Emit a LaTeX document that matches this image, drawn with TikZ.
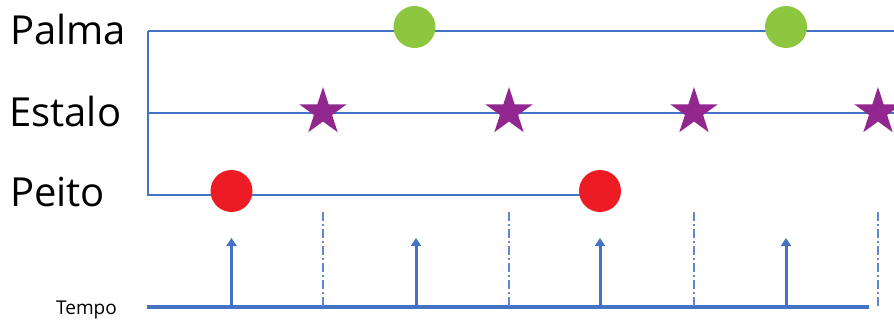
\documentclass[tikz,border=0pt]{standalone}
\usepackage{fontspec}
\setmainfont{Open Sans}
\usetikzlibrary{arrows.meta,shapes.geometric}
\definecolor{lineblue}{HTML}{4472C4}
\definecolor{dotgreen}{HTML}{8DC63F}
\definecolor{dotred}{HTML}{ED1C24}
\definecolor{starpurple}{HTML}{92278F}
\tikzset{
  lbl/.style={anchor=base west, inner sep=0pt, font=\fontsize{40}{44}\selectfont},
  track/.style={draw=lineblue, line width=1.4pt},
  gdot/.style={circle, fill=dotgreen, minimum size=42pt, inner sep=0pt},
  rdot/.style={circle, fill=dotred, minimum size=42pt, inner sep=0pt},
  pstar/.style={star, star points=5, star point ratio=2.618, fill=starpurple, minimum size=50pt, inner sep=0pt},
  tick/.style={draw=lineblue, line width=3pt, -{Triangle[width=10pt,length=8pt]}},
  sep/.style={draw=lineblue!85, line width=1.4pt, dash pattern=on 9pt off 3pt on 2pt off 3pt},
  axis/.style={draw=lineblue, line width=3.5pt}
}
\begin{document}
\begin{tikzpicture}[x=1pt,y=-1pt]
\useasboundingbox (0,0) rectangle (894,323);
\clip (0,0) rectangle (894,323);
% labels
\node[lbl] (lpalma) at (10,44.3) {Palma};
\node[lbl] (lestalo) at (9,126.7) {Estalo};
\node[lbl] (lpeito) at (10,206.7) {Peito};
\node[anchor=base west, inner sep=0pt, font=\fontsize{19}{21}\selectfont] (ltempo) at (56,314) {Tempo};
% track coordinates
\coordinate (pa) at (148,31);
\coordinate (pb) at (894,31);
\coordinate (ea) at (148,113);
\coordinate (eb) at (894,113);
\coordinate (ra) at (148,195);
\coordinate (rb) at (600,195);
\draw[track] (pa) -- (pb);
\draw[track] (ea) -- (eb);
\draw[track] (pa) -- (ra) -- (rb);
% events
\node[gdot] (g1) at (414.5,27) {};
\node[gdot] (g2) at (786,27) {};
\node[rdot] (r1) at (231.5,191) {};
\node[rdot] (r2) at (600,191) {};
\node[pstar] (s1) at (323,112) {};
\node[pstar] (s2) at (509,112) {};
\node[pstar] (s3) at (694,112) {};
\node[pstar] (s4) at (878,112) {};
% time axis
\coordinate (ax0) at (147,307);
\coordinate (ax1) at (869,307);
\draw[axis] (ax0) -- (ax1);
\foreach \x/\n in {231.5/a1,416/a2,600/a3,786/a4}{
  \coordinate (\n b) at (\x,307);
  \coordinate (\n t) at (\x,238);
  \draw[tick] (\n b) -- (\n t);
}
\foreach \x/\n in {323/d1,509/d2,694/d3,878/d4}{
  \coordinate (\n t) at (\x,212);
  \coordinate (\n b) at (\x,307);
  \draw[sep] (\n t) -- (\n b);
}
\end{tikzpicture}
\end{document}
